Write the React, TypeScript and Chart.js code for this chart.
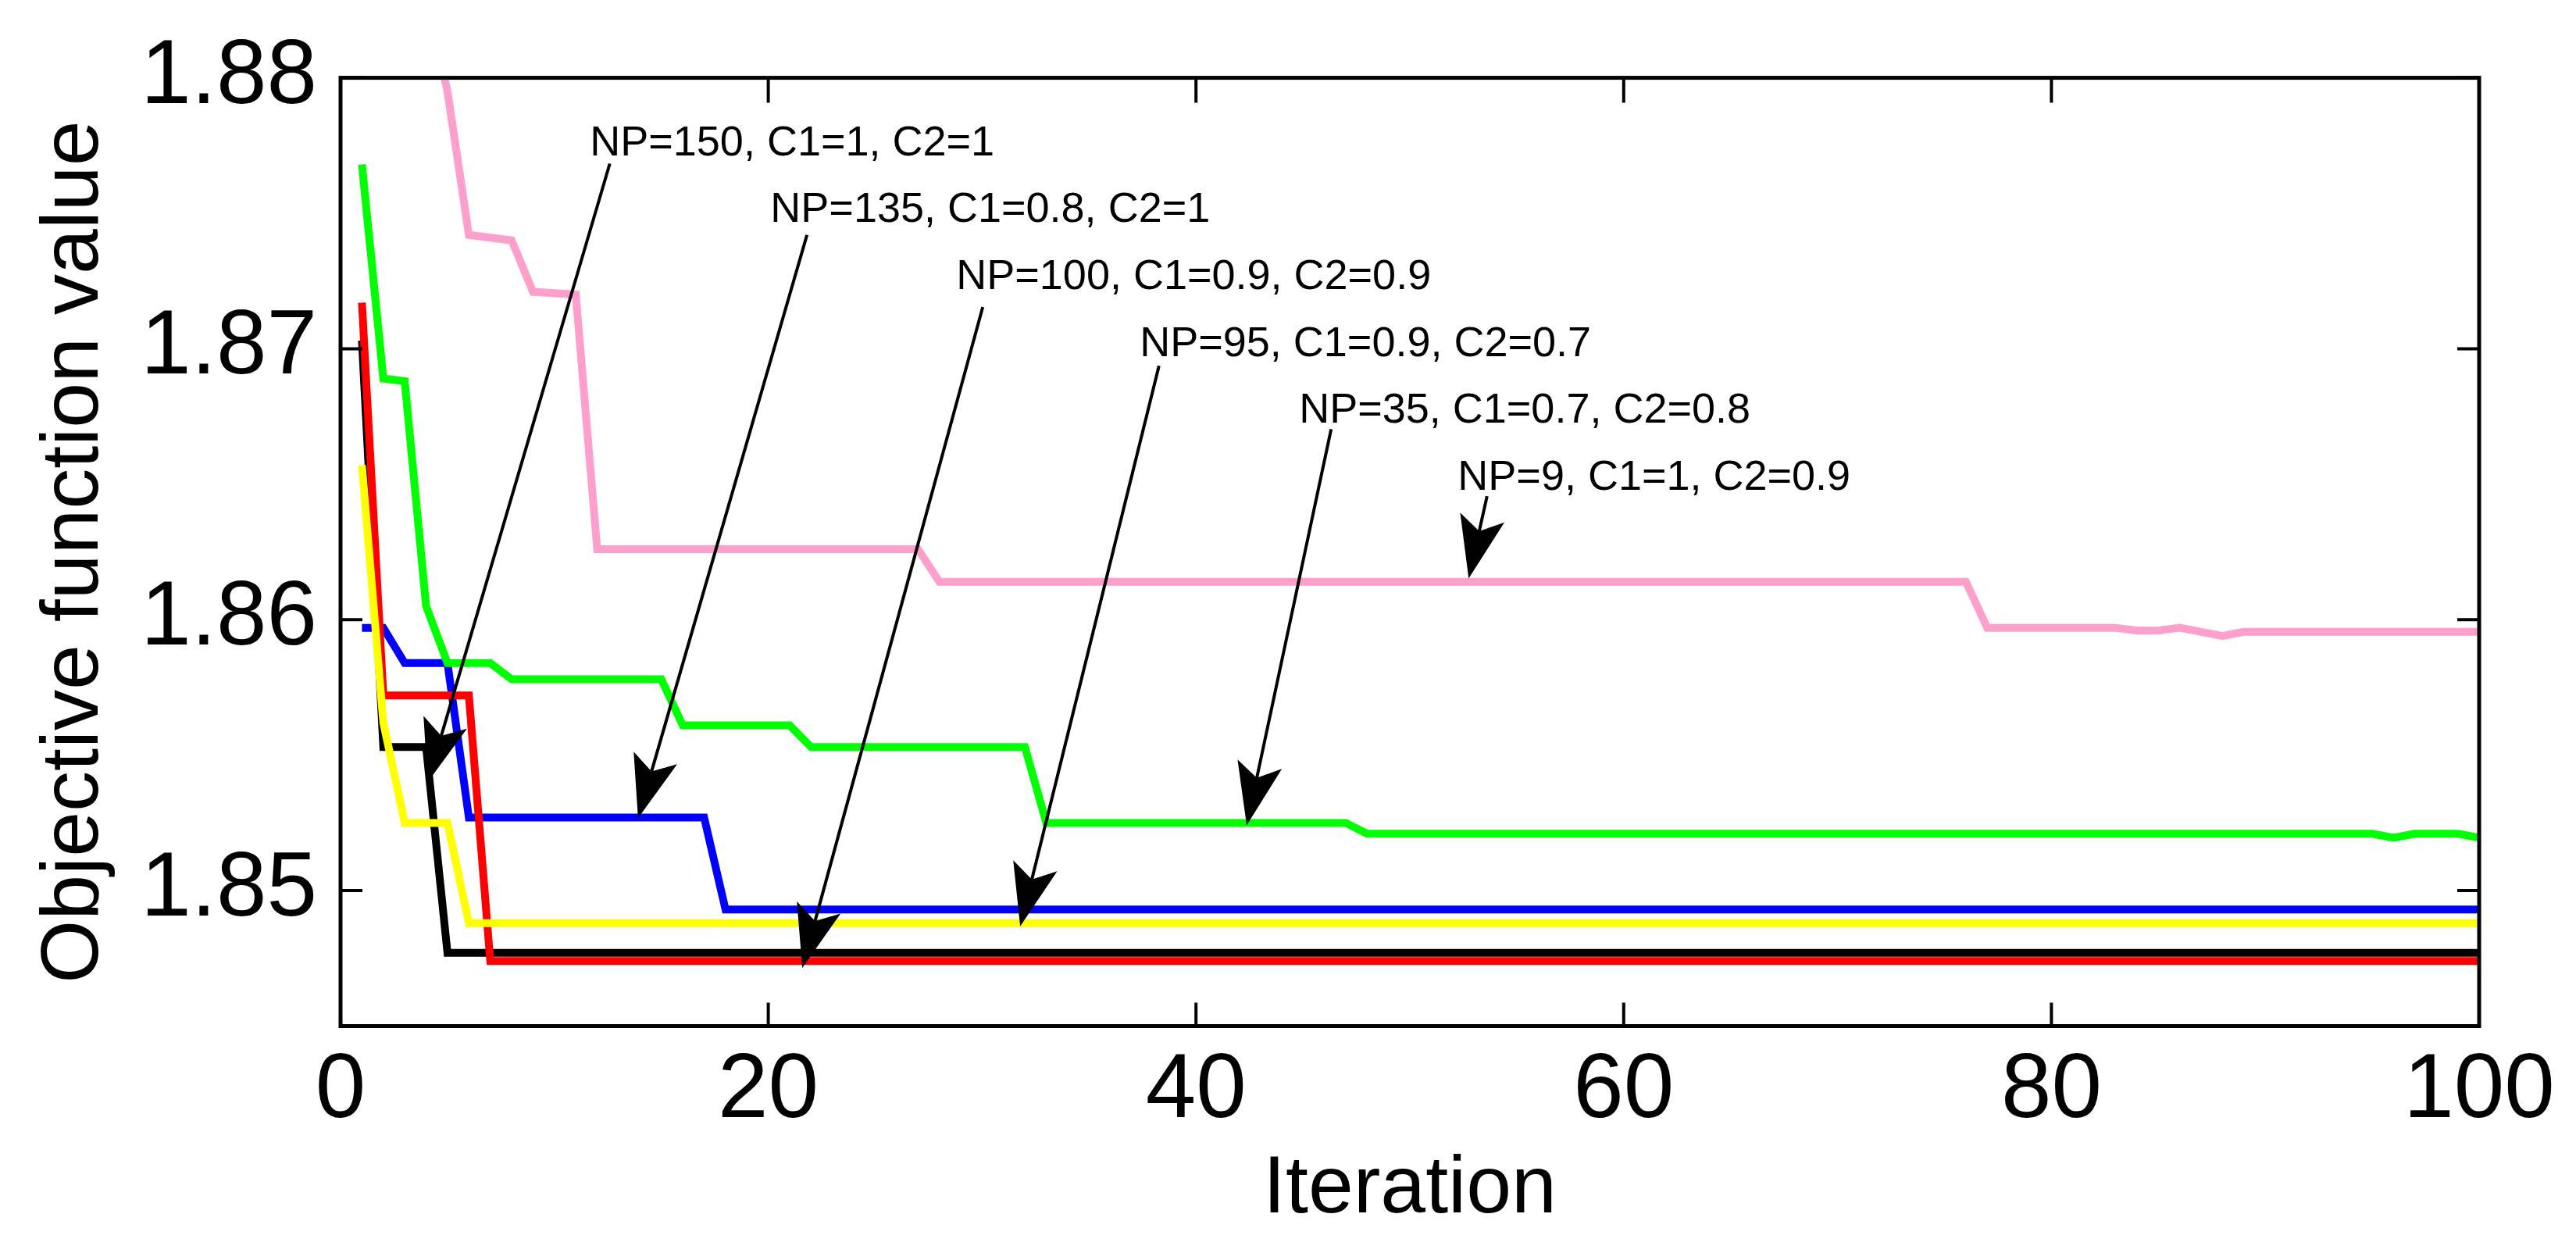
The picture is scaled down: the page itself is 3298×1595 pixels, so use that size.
import { useEffect, useRef } from "react";
import { Chart, registerables } from "chart.js";

Chart.register(...registerables);

const FONT = "'Liberation Sans', Arial, sans-serif";

const xTicks = [0, 20, 40, 60, 80, 100];
const yTicks = [1.85, 1.86, 1.87, 1.88];

// NP=9, C1=1, C2=0.9 (pink) - starts above the visible range
const pinkIter = [4, 5, 6, 8, 9, 11, 12, 27, 28, 76, 77, 83, 84, 85, 86, 87, 88, 89, 100];
const pinkVal = [1.883, 1.8795, 1.8742, 1.874, 1.8721, 1.872, 1.8626, 1.8626, 1.8614, 1.8614, 1.8597, 1.8597, 1.8596, 1.8596, 1.8597, 1.85955, 1.8594, 1.85955, 1.85955];

// NP=35, C1=0.7, C2=0.8 (green)
const greenIter = [1, 2, 3, 4, 5, 7, 8, 15, 16, 21, 22, 32, 33, 47, 48, 95, 96, 97, 99, 100];
const greenVal = [1.8768, 1.8689, 1.8688, 1.8605, 1.8584, 1.8584, 1.8578, 1.8578, 1.8561, 1.8561, 1.8553, 1.8553, 1.8525, 1.8525, 1.8521, 1.8521, 1.85195, 1.8521, 1.8521, 1.85195];

// NP=135, C1=0.8, C2=1 (blue)
const blueIter = [1, 2, 3, 5, 6, 17, 18, 100];
const blueVal = [1.8597, 1.8597, 1.8584, 1.8584, 1.8527, 1.8527, 1.8493, 1.8493];

// NP=150, C1=1, C2=1 (black)
const blackIter = [1, 2, 4, 5, 100];
const blackVal = [1.8703, 1.8553, 1.8553, 1.8477, 1.8477];

// NP=100, C1=0.9, C2=0.9 (red)
const redIter = [1, 2, 6, 7, 100];
const redVal = [1.8717, 1.8572, 1.8572, 1.8474, 1.8474];

// NP=95, C1=0.9, C2=0.7 (yellow)
const yellowIter = [1, 2, 3, 5, 6, 100];
const yellowVal = [1.8657, 1.8562, 1.8525, 1.8525, 1.8488, 1.8488];

// arrow annotations (data coordinates)
const noteText = [
  "NP=150, C1=1, C2=1",
  "NP=135, C1=0.8, C2=1",
  "NP=100, C1=0.9, C2=0.9",
  "NP=95, C1=0.9, C2=0.7",
  "NP=35, C1=0.7, C2=0.8",
  "NP=9, C1=1, C2=0.9",
];
const noteX = [11.66, 20.1, 28.79, 37.37, 44.82, 52.24];
const noteY = [1.87713, 1.87469, 1.8722, 1.86973, 1.86727, 1.86478];
const tailX = [12.59, 21.81, 30.03, 38.27, 46.32, 53.61];
const tailY = [1.87683, 1.8742, 1.87154, 1.86937, 1.86703, 1.86456];
const tipX = [4.07, 13.91, 21.59, 31.78, 42.37, 52.75];
const tipY = [1.854, 1.85268, 1.84715, 1.84868, 1.85241, 1.86152];

const pts = (xs: number[], ys: number[]) => xs.map((x, i) => ({ x, y: ys[i] }));

const framePlugin = {
  id: "frame",
  afterDraw(chart: any) {
    const { ctx, chartArea: a, scales } = chart;
    const x = scales.x;
    const y = scales.y;
    ctx.save();
    ctx.strokeStyle = "#000";
    ctx.fillStyle = "#000";
    ctx.lineWidth = 4;
    ctx.beginPath();
    xTicks.forEach((v) => {
      const px = x.getPixelForValue(v);
      ctx.moveTo(px, a.bottom);
      ctx.lineTo(px, a.bottom - 30);
      ctx.moveTo(px, a.top);
      ctx.lineTo(px, a.top + 32);
    });
    yTicks.forEach((v) => {
      const py = y.getPixelForValue(v);
      ctx.moveTo(a.left, py);
      ctx.lineTo(a.left + 28, py);
      ctx.moveTo(a.right, py);
      ctx.lineTo(a.right - 28, py);
    });
    ctx.stroke();
    ctx.lineWidth = 5;
    ctx.strokeRect(a.left, a.top, a.right - a.left, a.bottom - a.top);

    // annotations
    ctx.font = `54px ${FONT}`;
    ctx.textBaseline = "alphabetic";
    ctx.textAlign = "left";
    noteText.forEach((t, i) => {
      ctx.fillText(t, x.getPixelForValue(noteX[i]), y.getPixelForValue(noteY[i]));
      const x0 = x.getPixelForValue(tailX[i]);
      const y0 = y.getPixelForValue(tailY[i]);
      const x1 = x.getPixelForValue(tipX[i]);
      const y1 = y.getPixelForValue(tipY[i]);
      const len = Math.hypot(x1 - x0, y1 - y0);
      const ux = (x1 - x0) / len;
      const uy = (y1 - y0) / len;
      const nx = -uy;
      const ny = ux;
      const headLen = 80;
      const notch = 62;
      const half = 29;
      ctx.lineWidth = 4;
      ctx.beginPath();
      ctx.moveTo(x0, y0);
      ctx.lineTo(x1 - ux * notch, y1 - uy * notch);
      ctx.stroke();
      ctx.beginPath();
      ctx.moveTo(x1, y1);
      ctx.lineTo(x1 - ux * headLen + nx * half, y1 - uy * headLen + ny * half);
      ctx.lineTo(x1 - ux * notch, y1 - uy * notch);
      ctx.lineTo(x1 - ux * headLen - nx * half, y1 - uy * headLen - ny * half);
      ctx.closePath();
      ctx.fill();
    });
    ctx.restore();
  },
};

function App() {
  const chartRef = useRef<HTMLCanvasElement | null>(null);
  useEffect(() => {
    const ctx = chartRef.current?.getContext("2d");
    if (!ctx) return;

    const line = (data: { x: number; y: number }[], color: string) => ({
      data,
      borderColor: color,
      backgroundColor: color,
      borderWidth: 10,
      pointRadius: 0,
      tension: 0,
      fill: false,
      clip: 0,
    });

    const chart = new Chart(ctx, {
      type: "line",
      data: {
        datasets: [
          line(pts(yellowIter, yellowVal), "#ffff00"),
          line(pts(redIter, redVal), "#ff0000"),
          line(pts(blackIter, blackVal), "#000000"),
          line(pts(greenIter, greenVal), "#00ff00"),
          line(pts(blueIter, blueVal), "#0000ff"),
          line(pts(pinkIter, pinkVal), "#ff9fcc"),
        ],
      },
      options: {
        animation: false,
        responsive: true,
        maintainAspectRatio: false,
        layout: { padding: { top: 93, right: 124, left: 0, bottom: 0 } },
        plugins: {
          legend: { display: false },
          tooltip: { enabled: false },
        },
        scales: {
          x: {
            type: "linear",
            min: 0,
            max: 100,
            afterFit: (s: any) => {
              s.height = 281.5;
            },
            afterBuildTicks: (s: any) => {
              s.ticks = xTicks.map((value) => ({ value }));
            },
            grid: { display: false, drawTicks: false },
            border: { display: false },
            ticks: {
              padding: 15,
              maxRotation: 0,
              autoSkip: false,
              color: "#000",
              font: { family: FONT, size: 116 },
            },
            title: {
              display: true,
              text: "Iteration",
              color: "#000",
              font: { family: FONT, size: 104 },
              padding: { top: 0, bottom: 9 },
            },
          },
          y: {
            type: "linear",
            min: 1.845,
            max: 1.88,
            afterFit: (s: any) => {
              s.width = 436;
            },
            afterBuildTicks: (s: any) => {
              s.ticks = yTicks.map((value) => ({ value }));
            },
            grid: { display: false, drawTicks: false },
            border: { display: false },
            ticks: {
              padding: 30,
              color: "#000",
              font: { family: FONT, size: 116 },
              callback: (v: any) => Number(v).toFixed(2),
            },
            title: {
              display: true,
              text: "Objective function value",
              color: "#000",
              font: { family: FONT, size: 104 },
              padding: { top: 34, bottom: 0 },
            },
          },
        },
      },
      plugins: [framePlugin],
    });
    return () => chart.destroy();
  }, []);

  return (
    <div
      style={{
        position: "fixed",
        left: 0,
        top: 0,
        width: 3298,
        height: 1595,
        background: "#fff",
      }}
    >
      <canvas ref={chartRef}></canvas>
    </div>
  );
}

export default App;
